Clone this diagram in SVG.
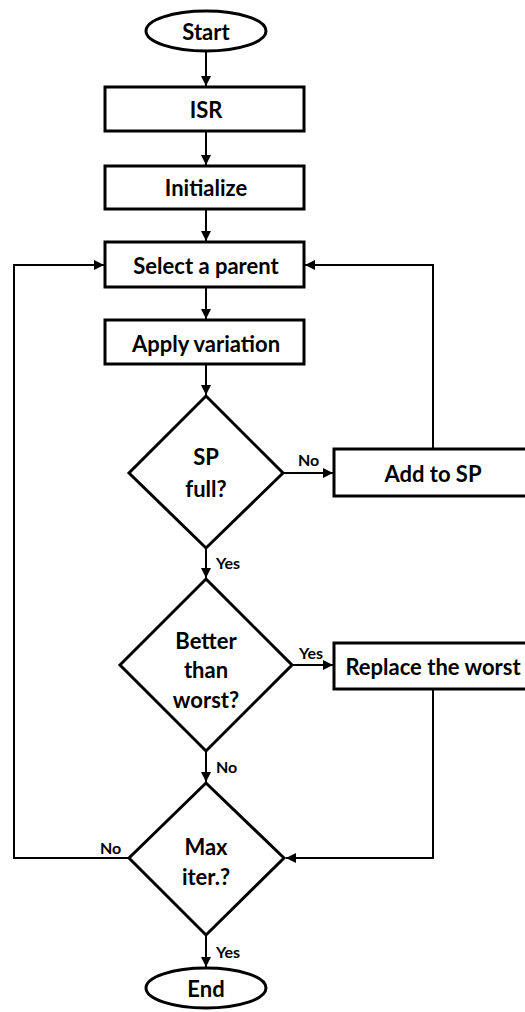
<svg xmlns="http://www.w3.org/2000/svg" width="525" height="1012" viewBox="0 0 525 1012">
  <style>
    .shape { fill: #ffffff; stroke: #000000; stroke-width: 3; }
    .wire { fill: none; stroke: #000000; stroke-width: 2; }
    .txt { font-family: Lato, "Open Sans", "Liberation Sans", sans-serif; font-weight: bold; font-size: 22px; fill: #000000; text-anchor: middle; dominant-baseline: central; }
    .lbl { font-family: Lato, "Open Sans", "Liberation Sans", sans-serif; font-weight: bold; font-size: 16px; fill: #000000; }
  </style>
  <defs>
    <marker id="arrow" viewBox="0 0 10 10" refX="10" refY="5" markerWidth="5" markerHeight="5" orient="auto" markerUnits="strokeWidth">
      <path d="M0,0 L10,5 L0,10 z" fill="#000000"/>
    </marker>
  </defs>
  <rect width="525" height="1012" fill="#ffffff"/>

  <g id="connectors">
    <line class="wire" x1="206" y1="51" x2="206" y2="86" marker-end="url(#arrow)"/>
    <line class="wire" x1="206" y1="131" x2="206" y2="165" marker-end="url(#arrow)"/>
    <line class="wire" x1="206" y1="209" x2="206" y2="241" marker-end="url(#arrow)"/>
    <line class="wire" x1="206" y1="287" x2="206" y2="319" marker-end="url(#arrow)"/>
    <line class="wire" x1="206" y1="364" x2="206" y2="395" marker-end="url(#arrow)"/>
    <line class="wire" x1="283" y1="473" x2="333" y2="473" marker-end="url(#arrow)"/>
    <polyline class="wire" points="433,449 433,265 305,265" marker-end="url(#arrow)"/>
    <line class="wire" x1="206" y1="548" x2="206" y2="578" marker-end="url(#arrow)"/>
    <line class="wire" x1="292" y1="665" x2="333" y2="665" marker-end="url(#arrow)"/>
    <line class="wire" x1="206" y1="751" x2="206" y2="782" marker-end="url(#arrow)"/>
    <polyline class="wire" points="433,689 433,858 286,858" marker-end="url(#arrow)"/>
    <polyline class="wire" points="129,858 14,858 14,265 104,265" marker-end="url(#arrow)"/>
    <line class="wire" x1="206" y1="935" x2="206" y2="967" marker-end="url(#arrow)"/>
    <text class="lbl" x="298" y="466">No</text>
    <text class="lbl" x="216" y="569">Yes</text>
    <text class="lbl" x="299" y="659">Yes</text>
    <text class="lbl" x="216" y="773">No</text>
    <text class="lbl" x="100" y="854">No</text>
    <text class="lbl" x="216" y="958">Yes</text>
  </g>

  <g id="start">
    <ellipse class="shape" cx="206" cy="31" rx="60" ry="20"/>
    <text class="txt" x="206" y="31">Start</text>
  </g>
  <g id="isr">
    <rect class="shape" x="105" y="87" width="199" height="44"/>
    <text class="txt" x="206" y="109">ISR</text>
  </g>
  <g id="initialize">
    <rect class="shape" x="105" y="166" width="199" height="43"/>
    <text class="txt" x="206" y="187">Initialize</text>
  </g>
  <g id="select-parent">
    <rect class="shape" x="105" y="242" width="199" height="45"/>
    <text class="txt" x="206" y="265">Select a parent</text>
  </g>
  <g id="apply-variation">
    <rect class="shape" x="105" y="320" width="199" height="44"/>
    <text class="txt" x="206" y="343">Apply variation</text>
  </g>
  <g id="sp-full">
    <polygon class="shape" points="206,396 283,473 206,548 129,473"/>
    <text class="txt" x="206" y="456">SP</text>
    <text class="txt" x="206" y="488">full?</text>
  </g>
  <g id="add-to-sp">
    <rect class="shape" x="334" y="449" width="200" height="47"/>
    <text class="txt" x="433" y="473">Add to SP</text>
  </g>
  <g id="better-than-worst">
    <polygon class="shape" points="206,579 292,665 206,751 120,665"/>
    <text class="txt" x="206" y="640">Better</text>
    <text class="txt" x="206" y="669">than</text>
    <text class="txt" x="206" y="699">worst?</text>
  </g>
  <g id="replace-worst">
    <rect class="shape" x="334" y="643" width="200" height="46"/>
    <text class="txt" x="433" y="666">Replace the worst</text>
  </g>
  <g id="max-iter">
    <polygon class="shape" points="206,783 284,858 206,935 129,858"/>
    <text class="txt" x="206" y="846">Max</text>
    <text class="txt" x="206" y="876">iter.?</text>
  </g>
  <g id="end">
    <ellipse class="shape" cx="206" cy="988" rx="60" ry="20"/>
    <text class="txt" x="206" y="988">End</text>
  </g>
</svg>
